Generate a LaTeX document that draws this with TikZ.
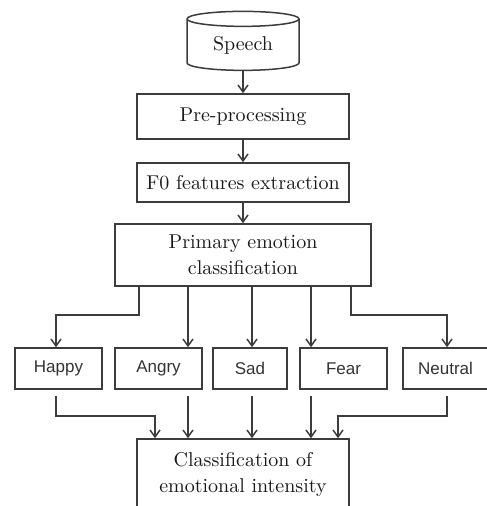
\documentclass[tikz,border=0pt]{standalone}
\usepackage{fontspec}
\newfontfamily\emofont{Liberation Sans}
\usetikzlibrary{shapes.geometric,arrows.meta}
\definecolor{linegray}{HTML}{3C3C3C}
\definecolor{textgray}{HTML}{333333}

\tikzset{
  stage/.style={draw=linegray, line width=0.75pt, inner sep=0pt, align=center,
                text=black!90, font=\fontsize{10}{13}\selectfont},
  emotion/.style={stage, minimum width=43.5pt, minimum height=20.5pt,
                  text=textgray, font=\emofont\fontsize{8.5}{10}\selectfont},
  arr/.style={draw=linegray, line width=0.75pt, -{Straight Barb[length=3.5pt,width=5pt]}},
  gap/.style={shorten <=3pt}
}

\begin{document}
\begin{tikzpicture}[x=0.5pt,y=-0.5pt]
  \useasboundingbox (0,0) rectangle (486,506);

% processing chain
  \node[stage, cylinder, shape border rotate=90, aspect=0.25,
        minimum width=56pt, minimum height=29.5pt] (speech) at (243,45) {Speech};
  \node[stage, minimum width=106pt, minimum height=22.5pt] (prep) at (243,116.5) {Pre-processing};
  \node[stage, minimum width=106pt, minimum height=19.5pt] (fzero) at (243,182.5) {F0 features extraction};
  \node[stage, minimum width=128pt, minimum height=31pt] (prim) at (243,255) {Primary emotion\\classification};

% emotion classes
  \node[emotion] (happy) at (58.5,368.5) {Happy};
  \node[emotion] (angry) at (158.5,368.5) {Angry};
  \node[emotion, minimum width=37pt] (sad) at (250,368.5) {Sad};
  \node[emotion] (fear) at (343.5,368.5) {Fear};
  \node[emotion, minimum width=42.5pt] (neutral) at (445.5,368.5) {Neutral};

  \node[stage, minimum width=106pt, minimum height=35.5pt] (intens) at (243,474.5) {Classification of\\emotional intensity};

% guide columns and corners for the connectors
  \coordinate (colH) at (56,0);
  \coordinate (colA) at (188,0);
  \coordinate (colS) at (252,0);
  \coordinate (colF) at (311,0);
  \coordinate (colN) at (447,0);
  \coordinate (splitH) at (139,315);
  \coordinate (splitN) at (351,315);
  \coordinate (joinH) at (155,416);
  \coordinate (joinN) at (338,416);

% chain arrows
  \draw[arr] (speech.south) -- (prep.north);
  \draw[arr] (prep) -- (fzero);
  \draw[arr] (fzero) -- (prim);

% fan out
  \draw[arr] (prim.south -| splitH) -- (splitH) -| (happy.north -| colH);
  \draw[arr] (prim.south -| splitN) -- (splitN) -| (neutral.north -| colN);
  \foreach \emo/\col in {angry/colA, sad/colS, fear/colF} {
    \draw[arr] (prim.south -| \col) -- (\emo.north -| \col);
    \draw[arr, gap] (\emo.south -| \col) -- (intens.north -| \col);
  }

% fan in
  \draw[arr, gap] (happy.south -| colH) |- (joinH) -- (intens.north -| joinH);
  \draw[arr, gap] (neutral.south -| colN) |- (joinN) -- (intens.north -| joinN);
\end{tikzpicture}
\end{document}
